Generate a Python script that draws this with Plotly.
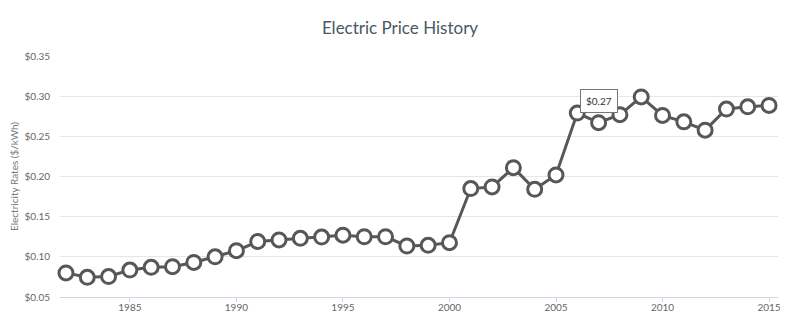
import plotly.graph_objects as go

years = list(range(1982, 2016))
prices = [0.080, 0.0745, 0.0755, 0.0835, 0.087, 0.0877, 0.093, 0.100, 0.1076,
          0.119, 0.121, 0.123, 0.1246, 0.127, 0.125, 0.125, 0.1135, 0.1143,
          0.1176, 0.185, 0.187, 0.211, 0.184, 0.202, 0.279, 0.267, 0.277,
          0.299, 0.276, 0.268, 0.2577, 0.284, 0.2867, 0.2885]
y_ticks = [0.05, 0.10, 0.15, 0.20, 0.25, 0.30, 0.35]
x_ticks = [1985, 1990, 1995, 2000, 2005, 2010, 2015]
tooltip_year = 2007
tooltip_value = prices[years.index(tooltip_year)]

fig = go.Figure()
fig.add_trace(go.Scatter(
    x=years, y=prices, mode="lines+markers",
    line=dict(color="#575757", width=3),
    marker=dict(size=14, color="white", line=dict(color="#575757", width=3)),
    cliponaxis=False, hoverinfo="skip",
))

fig.add_annotation(
    x=tooltip_year, y=tooltip_value, text="$%.2f" % tooltip_value,
    showarrow=False, yanchor="bottom", yshift=10,
    bgcolor="white", bordercolor="#777777", borderwidth=1, borderpad=5,
    font=dict(family="Lato, sans-serif", size=10, color="#333333"),
)

fig.update_layout(
    width=800, height=333,
    margin=dict(l=60, r=22, t=56, b=36),
    paper_bgcolor="white", plot_bgcolor="white",
    showlegend=False,
    title=dict(text="Electric Price History", x=0.5, xanchor="center",
               y=1 - 28 / 333, yanchor="middle",
               font=dict(family="Lato, sans-serif", size=17, color="#4a5862")),
    font=dict(family="Lato, sans-serif", color="#666666", size=10),
)
fig.update_xaxes(
    range=[1981.72, 2015.42], tickvals=x_ticks, ticktext=[str(v) for v in x_ticks],
    showgrid=False, zeroline=False, automargin=False,
    showline=True, linecolor="#ccd6eb", linewidth=1,
    ticks="outside", ticklen=4, tickcolor="#ccd6eb",
    ticklabelstandoff=-3,
    tickfont=dict(size=10, color="#666666"),
)
fig.update_yaxes(
    range=[0.05, 0.35], tickvals=y_ticks,
    ticktext=["$%.2f" % v for v in y_ticks],
    showgrid=True, gridcolor="#e6e6e6", gridwidth=1, zeroline=False,
    showline=False, ticks="", ticklabelstandoff=9, automargin=False,
    tickfont=dict(size=10, color="#666666"),
    title=dict(text="Electricity Rates ($/kWh)", standoff=3,
               font=dict(size=10, color="#777777")),
)

fig.write_html("out.html")
